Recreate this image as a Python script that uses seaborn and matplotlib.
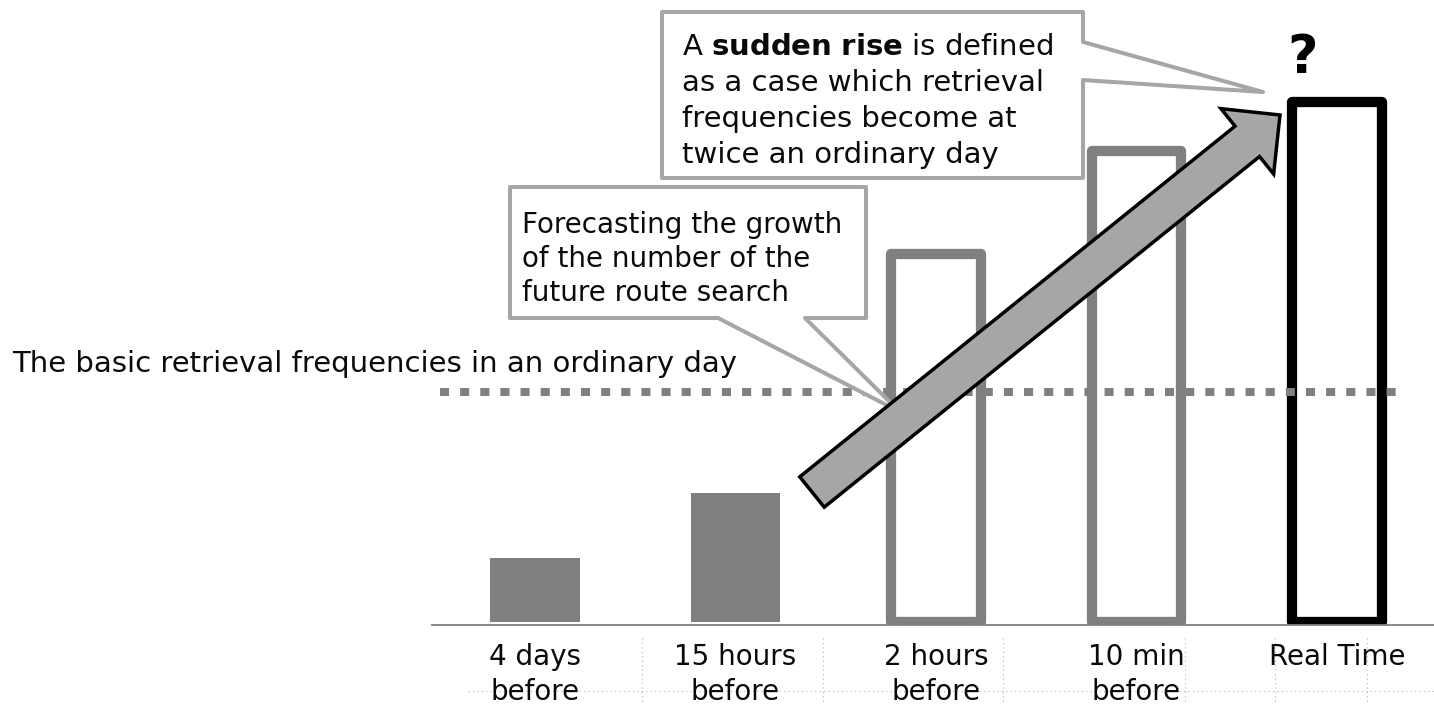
import numpy as np
import pandas as pd
import matplotlib
matplotlib.use("Agg")
import matplotlib.pyplot as plt
import seaborn as sns
from matplotlib.patches import Polygon
from matplotlib.lines import Line2D

# ---------------- data ----------------
categories = ["4 days\nbefore", "15 hours\nbefore", "2 hours\nbefore", "10 min\nbefore", "Real Time"]
frequencies = [28, 56, 160, 205, 226]          # relative to ordinary day = 100
ordinary_level = 100
face_colors = ["#7f7f7f", "#7f7f7f", "white", "white", "white"]
edge_colors = ["#7f7f7f", "#7f7f7f", "#808080", "#808080", "#000000"]

left_label = "The basic retrieval frequencies in an ordinary day"
callout1_lines = [r"A $\mathbf{sudden\ rise}$ is defined",
                  "as a case which retrieval",
                  "frequencies become at",
                  "twice an ordinary day"]
callout2_lines = ["Forecasting the growth",
                  "of the number of the",
                  "future route search"]

# ---------------- style ----------------
sns.set_theme(style="white")
plt.rcParams['font.family'] = ['DejaVu Sans']
plt.rcParams['mathtext.fontset'] = 'dejavusans'

W, H = 1434, 704
fig = plt.figure(figsize=(W / 100, H / 100), dpi=100)
fig.patch.set_facecolor("white")


def fp(x, y):
    """pixel (from top-left) -> figure fraction"""
    return (x / W, 1 - y / H)


px_per_cat = 200.5
center0 = 535.0
px_per_unit = 2.3
ax = fig.add_axes([432 / W, (H - 625) / H, 1 - 432 / W, 625 / H])
ax.set_facecolor("none")

df = pd.DataFrame({"cat": categories, "freq": frequencies})
sns.barplot(data=df, x="cat", y="freq", ax=ax, width=0.448,
            color="#7f7f7f", saturation=1, zorder=2)

for p, fc, ec in zip(ax.patches, face_colors, edge_colors):
    p.set_facecolor(fc)
    p.set_edgecolor(ec)
    if fc == "white":
        p.set_linewidth(7.4)
        p.set_joinstyle("round")
    else:
        p.set_linewidth(0)

ax.set_xlim((432 - center0) / px_per_cat, (W - center0) / px_per_cat)
ax.set_ylim(-3 / px_per_unit, 622 / px_per_unit)
ax.set_xlabel("")
ax.set_ylabel("")
ax.set_yticks([])

for s in ["top", "right", "left"]:
    ax.spines[s].set_visible(False)
ax.spines["bottom"].set_color("#808080")
ax.spines["bottom"].set_linewidth(1.3)

ax.set_xticks([-0.5, 0.5, 1.5, 2.5, 3.5])
ax.set_xticklabels([])
ax.set_xticks(np.arange(len(categories)), minor=True)
ax.set_xticklabels(categories, minor=True, fontsize=20, color="#0a0a0a",
                   linespacing=1.3)
ax.tick_params(axis="x", which="major", length=7.5, width=1.3,
               color="#808080", direction="out")
ax.tick_params(axis="x", which="minor", length=0, pad=13)

# ordinary-day dotted level line
ax.axhline(ordinary_level, xmin=(440 - 432) / 1002, xmax=(1400 - 432) / 1002,
           color="#808080", lw=5.8, dashes=(1.125, 1.375),
           dash_capstyle="butt", zorder=3)

# faint table dotted lines at the bottom
fig.add_artist(Line2D([468 / W, 1.0], [1 - 691 / H, 1 - 691 / H],
                      color="#b5b5b5", lw=0.8, ls=(0, (1, 3)), zorder=-1))
for xv in [642, 823, 1003, 1185, 1275, 1367]:
    fig.add_artist(Line2D([xv / W, xv / W], [1 - 638 / H, 0],
                          color="#b5b5b5", lw=0.8, ls=(0, (1, 3)), zorder=-1))

# left label
fig.text(*fp(12, 372), left_label, fontsize=21, color="#0a0a0a",
         ha="left", va="baseline")

# callout 2 (forecast)
c2 = [(510, 187), (866, 187), (866, 318), (805, 318), (900, 412),
      (718, 318), (510, 318)]
fig.add_artist(Polygon([fp(*q) for q in c2], closed=True, facecolor="white",
                       edgecolor="#a6a6a6", lw=2.9, joinstyle="round",
                       transform=fig.transFigure, zorder=2))
for yb, line in zip([233, 267, 301], callout2_lines):
    fig.text(*fp(522, yb), line, fontsize=20, color="#0a0a0a",
             ha="left", va="baseline", zorder=6)

# callout 1 (sudden rise)
c1 = [(662, 12), (1083, 12), (1083, 42), (1263, 92), (1083, 80),
      (1083, 178), (662, 178)]
fig.add_artist(Polygon([fp(*q) for q in c1], closed=True, facecolor="white",
                       edgecolor="#a6a6a6", lw=2.9, joinstyle="round",
                       transform=fig.transFigure, zorder=3))
for yb, line in zip([55, 91, 127, 163], callout1_lines):
    fig.text(*fp(682, yb), line, fontsize=21, color="#0a0a0a",
             ha="left", va="baseline", zorder=6)

# big block arrow
T = np.array([812.0, 492.0])
P = np.array([1280.0, 115.0])
u = (P - T) / np.linalg.norm(P - T)
n = np.array([-u[1], u[0]])
hw, hl, hh = 19.5, 42.0, 42.0
B = P - hl * u
arrow_pts = [T - hw * n, B - hw * n, B - hh * n, P, B + hh * n, B + hw * n, T + hw * n]
fig.add_artist(Polygon([fp(*q) for q in arrow_pts], closed=True,
                       facecolor="#a6a6a6", edgecolor="black", lw=2.5,
                       joinstyle="miter", transform=fig.transFigure, zorder=4))

# question mark
fig.text(*fp(1303, 73), "?", fontsize=38, fontweight="bold", color="black",
         ha="center", va="baseline", zorder=6)

fig.savefig("out.png", dpi=100, facecolor="white")
